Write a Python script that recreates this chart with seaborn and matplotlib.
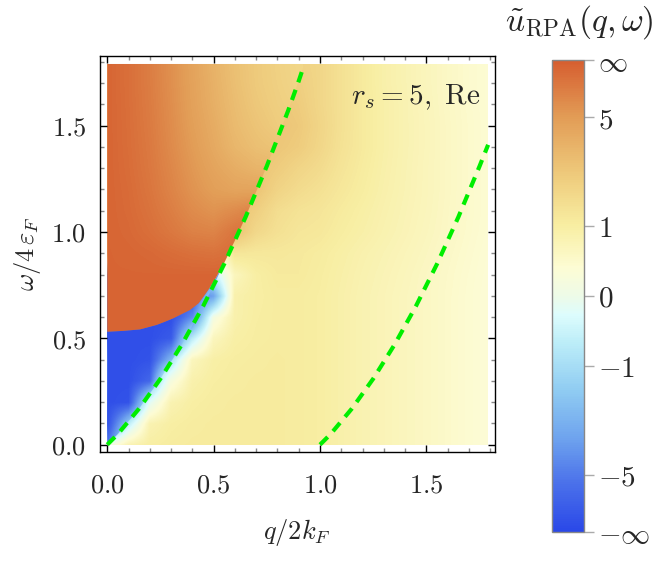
import numpy as np
import matplotlib
matplotlib.use("Agg")
import matplotlib.pyplot as plt
import seaborn as sns
from matplotlib.cm import ScalarMappable
from matplotlib.colors import LinearSegmentedColormap, Normalize
from matplotlib.patches import Polygon, Rectangle
from matplotlib.ticker import FuncFormatter, MultipleLocator

# grid nodes (q/2kF columns, omega/4eF rows)
Q_NODES = [0.0, 0.1, 0.2, 0.3, 0.4, 0.5, 0.6, 0.7, 0.8, 0.9,
           1.0, 1.1, 1.2, 1.3, 1.4, 1.5, 1.6, 1.7, 1.8]
W_NODES = [0.0, 0.1, 0.2, 0.3, 0.4, 0.5, 0.6, 0.7, 0.8, 0.9,
           1.0, 1.1, 1.2, 1.3, 1.4, 1.5, 1.6, 1.7, 1.8]

# u_RPA, continuum side (rows: omega 0.0 -> 1.8)
U_OUTER = [
    [0.0, 0.79, 0.98, 1.05, 1.08, 1.08, 1.08, 1.08, 1.08, 1.05, 1.0, 0.9, 0.8, 0.72, 0.64, 0.57, 0.49, 0.41, 0.34],
    [-5.1, -0.65, 0.79, 0.98, 1.05, 1.08, 1.08, 1.08, 1.08, 1.05, 1.0, 0.9, 0.8, 0.72, 0.64, 0.57, 0.49, 0.41, 0.34],
    [-3.6, -3.6, -0.19, 0.79, 0.98, 1.05, 1.08, 1.08, 1.08, 1.05, 1.0, 0.9, 0.8, 0.72, 0.64, 0.57, 0.49, 0.41, 0.34],
    [-2.0, -1.7, -1.7, 0.19, 0.87, 1.0, 1.05, 1.08, 1.08, 1.05, 1.0, 0.9, 0.8, 0.72, 0.64, 0.57, 0.49, 0.41, 0.34],
    [-1.5, -1.5, -1.5, -0.9, 0.65, 0.95, 1.02, 1.05, 1.08, 1.05, 1.0, 0.9, 0.8, 0.72, 0.64, 0.57, 0.49, 0.41, 0.34],
    [-6.0, -6.0, -6.0, -5.8, -0.65, 0.65, 0.95, 1.02, 1.05, 1.05, 1.0, 0.9, 0.8, 0.72, 0.64, 0.57, 0.49, 0.41, 0.34],
    [-6.0, -6.0, -6.0, -6.0, -5.6, 0.13, 0.87, 1.0, 1.05, 1.05, 1.0, 0.9, 0.8, 0.72, 0.64, 0.57, 0.49, 0.41, 0.34],
    [-6.0, -6.0, -6.0, -6.0, -6.2, -2.75, 0.87, 0.98, 1.05, 1.05, 1.0, 0.9, 0.8, 0.72, 0.64, 0.57, 0.49, 0.41, 0.34],
    [-6.0, -6.0, -6.0, -6.0, -1.45, -0.51, 0.65, 0.98, 1.1, 1.1, 1.02, 0.92, 0.82, 0.74, 0.66, 0.58, 0.5, 0.42, 0.35],
    [1.9, 1.9, 1.9, 1.9, 1.9, 0.32, 1.2, 1.15, 1.15, 1.12, 1.05, 0.95, 0.85, 0.77, 0.69, 0.61, 0.52, 0.44, 0.36],
    [1.9, 1.9, 1.9, 1.9, 1.9, 1.9, 2.4, 1.6, 1.35, 1.2, 1.15, 1.02, 0.92, 0.82, 0.73, 0.64, 0.55, 0.46, 0.38],
    [2.2, 2.2, 2.2, 2.2, 2.2, 2.2, 2.4, 1.9, 1.45, 1.3, 1.22, 1.08, 0.96, 0.85, 0.75, 0.66, 0.56, 0.47, 0.39],
    [2.2, 2.2, 2.2, 2.2, 2.2, 2.2, 2.2, 2.3, 1.75, 1.5, 1.35, 1.17, 1.02, 0.88, 0.77, 0.67, 0.57, 0.47, 0.39],
    [2.3, 2.3, 2.3, 2.3, 2.3, 2.3, 2.3, 2.3, 2.0, 1.7, 1.5, 1.25, 1.06, 0.9, 0.78, 0.67, 0.57, 0.47, 0.39],
    [2.3, 2.3, 2.3, 2.3, 2.3, 2.3, 2.3, 2.3, 2.2, 2.0, 1.65, 1.32, 1.1, 0.92, 0.79, 0.68, 0.57, 0.47, 0.39],
    [2.3, 2.3, 2.3, 2.3, 2.3, 2.3, 2.3, 2.3, 2.3, 2.1, 1.7, 1.35, 1.1, 0.92, 0.79, 0.68, 0.57, 0.47, 0.39],
    [2.2, 2.2, 2.2, 2.2, 2.2, 2.2, 2.2, 2.2, 2.2, 2.0, 1.65, 1.35, 1.1, 0.92, 0.79, 0.67, 0.56, 0.46, 0.38],
    [2.0, 2.0, 2.0, 2.0, 2.0, 2.0, 2.0, 2.0, 2.0, 1.9, 1.65, 1.35, 1.1, 0.9, 0.78, 0.66, 0.55, 0.45, 0.38],
    [1.9, 1.9, 1.9, 1.9, 1.9, 1.9, 1.9, 1.9, 1.9, 1.8, 1.65, 1.35, 1.1, 0.9, 0.78, 0.66, 0.55, 0.45, 0.38],
]

# u_RPA between plasmon branch and continuum edge (rows: omega 0.0 -> 0.9, cols: q 0.0 -> 0.6)
Q_BLUE = [0.0, 0.1, 0.2, 0.3, 0.4, 0.5, 0.6]
W_BLUE = [0.0, 0.1, 0.2, 0.3, 0.4, 0.5, 0.6, 0.7, 0.8, 0.9]
U_BLUE = [
    [-6.2, -0.32, 0, 0, 0, 0, 0],
    [-32, -1.45, -0.32, 0, 0, 0, 0],
    [-32, -21, -0.58, -0.32, 0, 0, 0],
    [-32, -32, -7.8, 0.65, 0, 0, 0],
    [-32, -32, -21, -2.0, 0, 0, 0],
    [-32, -32, -32, -12.6, -0.45, 0, 0],
    [-32, -32, -32, -32, -3.9, 0, 0],
    [-32, -32, -32, -32, -21, -1.02, 0],
    [-32, -32, -32, -32, -12.6, -6.2, -0.65],
    [-32, -32, -32, -32, -12.6, -6.2, -1.45],
]

# u_RPA above the plasmon branch (rows: omega 0.5 -> 1.8, cols: q 0.0 -> 1.0)
Q_INNER = [0.0, 0.1, 0.2, 0.3, 0.4, 0.5, 0.6, 0.7, 0.8, 0.9, 1.0]
W_INNER = [0.5, 0.6, 0.7, 0.8, 0.9, 1.0, 1.1, 1.2, 1.3, 1.4, 1.5, 1.6, 1.7, 1.8]
U_INNER = [
    [42, 42, 42, 42, 42, 42, 42, 42, 42, 42, 42],
    [42, 42, 42, 42, 42, 42, 42, 42, 42, 42, 42],
    [42, 42, 42, 42, 42, 42, 42, 42, 42, 42, 42],
    [42, 42, 42, 42, 42, 42, 42, 42, 42, 42, 42],
    [42, 37, 29, 21, 16.7, 15, 21, 25, 25, 25, 25],
    [42, 29, 18, 12.1, 8.9, 8.3, 14, 21, 21, 21, 21],
    [42, 25, 15, 9.7, 6.9, 5.8, 6.9, 8.9, 8.9, 8.9, 8.9],
    [42, 23, 13.2, 8.3, 5.8, 4.6, 4.1, 4.1, 4.1, 4.1, 4.1],
    [42, 21, 12.1, 7.6, 5.3, 4.1, 3.4, 3.0, 2.9, 2.9, 2.9],
    [42, 19.8, 11.5, 7.0, 4.9, 3.7, 2.9, 2.5, 2.3, 2.2, 2.1],
    [42, 19.2, 10.9, 6.7, 4.6, 3.5, 2.7, 2.3, 2.0, 1.88, 1.82],
    [42, 18.6, 10.5, 6.5, 4.4, 3.3, 2.6, 2.15, 1.9, 1.76, 1.71],
    [42, 18, 10.2, 6.3, 4.3, 3.2, 2.5, 2.07, 1.85, 1.67, 1.6],
    [42, 18, 10, 6.2, 4.2, 3.1, 2.45, 2.06, 1.82, 1.65, 1.55],
]

# plasmon branch (sign change of u)
PLASMON_Q = [0.0, 0.075, 0.154, 0.232, 0.271, 0.31, 0.389, 0.43, 0.475, 0.514, 0.55]
PLASMON_W = [0.531, 0.535, 0.542, 0.563, 0.578, 0.594, 0.633, 0.665, 0.727, 0.79, 0.855]

# particle-hole continuum edges (green dashed)
EDGE_UP_Q = [0.0, 0.05, 0.1, 0.15, 0.2, 0.25, 0.3, 0.35, 0.4, 0.45, 0.5,
             0.55, 0.6, 0.65, 0.7, 0.75, 0.8, 0.85, 0.9, 0.92]
EDGE_UP_W = [0.0, 0.05, 0.11, 0.17, 0.24, 0.31, 0.39, 0.47, 0.56, 0.65, 0.75,
             0.85, 0.96, 1.07, 1.19, 1.31, 1.44, 1.57, 1.71, 1.77]
EDGE_LO_Q = [1.0, 1.05, 1.1, 1.15, 1.2, 1.25, 1.3, 1.35, 1.4, 1.45, 1.5,
             1.55, 1.6, 1.65, 1.7, 1.75, 1.79]
EDGE_LO_W = [0.0, 0.05, 0.11, 0.17, 0.24, 0.31, 0.39, 0.47, 0.56, 0.65, 0.75,
             0.85, 0.96, 1.07, 1.19, 1.31, 1.41]

IMAGE_MAX = 1.79
CBAR_VALUES = [-np.inf, -5, -1, 0, 1, 5, np.inf]
CBAR_LABELS = [r"$-\infty$", r"$-5$", r"$-1$", r"$0$", r"$1$", r"$5$", r"$\infty$"]

CMAP = LinearSegmentedColormap.from_list("temperature", [
    (0.00, "#2a48e8"), (0.10, "#4a70ea"), (0.20, "#6fa4ee"), (0.30, "#90ccf2"),
    (0.40, "#bcedf8"), (0.46, "#ddfcfd"), (0.50, "#edfbe8"), (0.56, "#fdfcd4"),
    (0.65, "#f8eea2"), (0.75, "#efcd7e"), (0.88, "#e29c56"), (1.00, "#d65e30"),
])
GREEN = "#00ee00"


def to_level(u):
    """Map u onto the arctan colour scale used by the legend."""
    return 0.5 + np.arctan(np.asarray(u, dtype=float) / 2) / np.pi


def node_extent(qs, ws):
    """imshow extent so that pixel centres sit on the grid nodes."""
    dq = (qs[-1] - qs[0]) / (len(qs) - 1) / 2
    dw = (ws[-1] - ws[0]) / (len(ws) - 1) / 2
    return (qs[0] - dq, qs[-1] + dq, ws[0] - dw, ws[-1] + dw)


def draw_sheet(ax, u, qs, ws, clip):
    """Draw one smooth sheet of the density, clipped to its region."""
    im = ax.imshow(to_level(u), extent=node_extent(qs, ws), origin="lower",
                   cmap=CMAP, vmin=0, vmax=1, aspect="auto",
                   interpolation="bilinear", interpolation_stage="data")
    clip.set_transform(ax.transData)
    im.set_clip_path(clip)
    return im


def main():
    sns.set_theme(style="ticks")
    plt.rcParams.update({
        "mathtext.fontset": "cm",
        "font.family": ["DejaVu Serif"],
        "axes.edgecolor": "black",
        "axes.linewidth": 1.0,
    })

    fig = plt.figure(figsize=(6.57, 5.63), dpi=100)
    ax = fig.add_axes([0.1522, 0.1977, 0.6008, 0.7034])

    # Density: continuum sheet, blue pocket and plasmon-side sheet
    plasmon = list(zip(PLASMON_Q, PLASMON_W))
    edge = list(zip(EDGE_UP_Q, EDGE_UP_W))
    q_end = PLASMON_Q[-1]
    draw_sheet(ax, U_OUTER, Q_NODES, W_NODES,
               Rectangle((0, 0), IMAGE_MAX, IMAGE_MAX))
    blue_verts = plasmon + [p for p in edge if p[0] < q_end][::-1]
    draw_sheet(ax, U_BLUE, Q_BLUE, W_BLUE, Polygon(blue_verts, closed=True))
    inner_verts = ([(0, IMAGE_MAX)] + plasmon + [p for p in edge if p[0] > q_end]
                   + [(EDGE_UP_Q[-1], IMAGE_MAX)])
    draw_sheet(ax, U_INNER, Q_INNER, W_INNER, Polygon(inner_verts, closed=True))

    # Continuum edges
    for xs, ys in ((EDGE_UP_Q, EDGE_UP_W), (EDGE_LO_Q, EDGE_LO_W)):
        sns.lineplot(x=xs, y=ys, ax=ax, color=GREEN, lw=3, sort=False,
                     estimator=None, linestyle=(0, (2.6, 1.9)))

    # Axes
    ax.set_xlim(-0.034, 1.821)
    ax.set_ylim(-0.033, 1.829)
    for axis in (ax.xaxis, ax.yaxis):
        axis.set_major_locator(MultipleLocator(0.5))
        axis.set_minor_locator(MultipleLocator(0.1))
        axis.set_major_formatter(FuncFormatter(lambda v, pos: f"${v:.1f}$"))
    ax.tick_params(which="both", direction="in", top=True, right=True,
                   labelsize=19)
    ax.tick_params(which="major", length=5, width=1, color="black")
    ax.tick_params(which="minor", length=3, width=1, color="#888888")
    ax.tick_params(axis="x", which="major", pad=15)
    ax.tick_params(axis="y", which="major", pad=10)
    ax.set_xlabel(r"$q/2k_F$", fontsize=19, labelpad=14)
    ax.set_ylabel(r"$\omega/4\,\varepsilon_F$", fontsize=19, labelpad=6)
    ax.text(1.752, 1.635, r"$r_s = 5,\ \mathrm{Re}$", ha="right", va="center",
            fontsize=21)

    # Colour legend
    cax = fig.add_axes([0.840, 0.0551, 0.0487, 0.8384])
    cb = fig.colorbar(ScalarMappable(norm=Normalize(0, 1), cmap=CMAP), cax=cax,
                      ticks=to_level(CBAR_VALUES))
    cb.set_ticklabels(CBAR_LABELS)
    cb.outline.set_edgecolor("#888888")
    cb.outline.set_linewidth(1)
    cax.tick_params(length=7, width=1, color="#aaaaaa", labelsize=21, pad=3)
    fig.text(0.881, 0.961, r"$\tilde{u}_{\mathrm{RPA}}(q,\omega)$",
             ha="center", va="center", fontsize=24)

    fig.savefig("out.png", dpi=100)
    plt.close(fig)


if __name__ == "__main__":
    main()
